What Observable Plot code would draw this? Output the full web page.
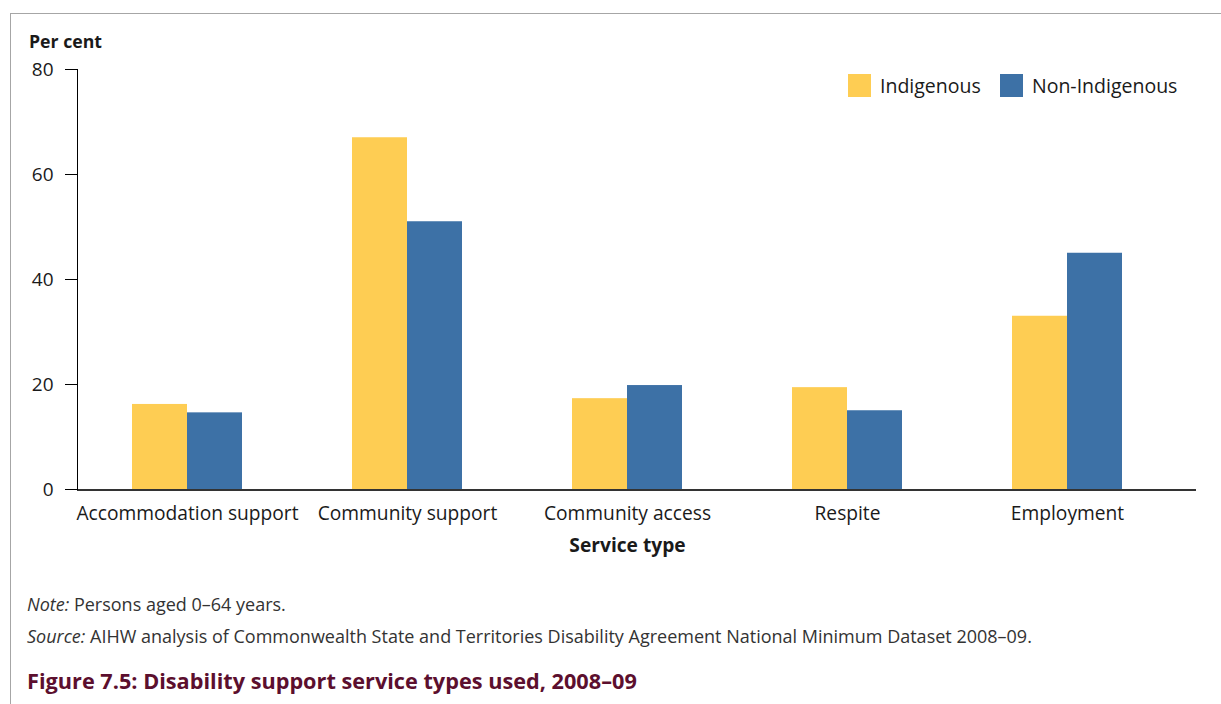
<!DOCTYPE html>
<html><head><meta charset="utf-8">
<script src="https://cdn.jsdelivr.net/npm/d3@7"></script>
<script src="https://cdn.jsdelivr.net/npm/@observablehq/plot@0.6"></script>
<style>
body{margin:0;background:#fff;}
#wrap{position:relative;width:1221px;height:704px;overflow:hidden;font-family:"Open Sans",sans-serif;color:#1a1a1a;}
#frame{position:absolute;left:10px;top:13px;right:-5px;bottom:-5px;border-top:1px solid #a6a6a6;border-left:1px solid #a6a6a6;}
#chart{position:absolute;left:0;top:0;}
#ylab{position:absolute;left:29px;top:29px;font-weight:bold;font-size:17.7px;line-height:24px;}
.leg{position:absolute;top:74px;height:23px;display:flex;align-items:center;font-size:19.5px;}
.sw{width:23px;height:23px;margin-right:9px;}
.foot{position:absolute;left:27px;font-size:18px;color:#333;white-space:nowrap;line-height:20px;}
#title{position:absolute;left:27px;top:667px;font-size:21.7px;font-weight:bold;color:#5c0f2e;white-space:nowrap;line-height:28px;}
g[aria-label="fx-axis label"] text{font-weight:bold;}
</style></head>
<body><div id="wrap">
<div id="frame"></div>
<div id="chart"></div>
<div id="ylab">Per cent</div>
<div id="legend"></div>
<div class="foot" style="top:594px"><i>Note:</i> Persons aged 0–64 years.</div>
<div class="foot" style="top:626px"><i>Source:</i> AIHW analysis of Commonwealth State and Territories Disability Agreement National Minimum Dataset 2008–09.</div>
<div id="title">Figure 7.5: Disability support service types used, 2008–09</div>
</div>
<script>
const categories = ["Accommodation support","Community support","Community access","Respite","Employment"];
const seriesNames = ["Indigenous","Non-Indigenous"];
const indigenous = [16.2, 67.0, 17.3, 19.4, 33.0];
const nonIndigenous = [14.6, 51.0, 19.8, 15.0, 45.0];
const yTicks = [0, 20, 40, 60, 80];
const colors = ["#FECD53", "#3D71A6"];

const data = categories.flatMap((c, i) => [
  {category: c, series: seriesNames[0], value: indigenous[i]},
  {category: c, series: seriesNames[1], value: nonIndigenous[i]}
]);

const chart = Plot.plot({
  width: 1221, height: 560,
  marginLeft: 75, marginRight: 42, marginTop: 69, marginBottom: 71,
  style: {fontFamily: '"Open Sans", sans-serif', fontSize: "19px", color: "#1a1a1a", background: "transparent", overflow: "visible"},
  fx: {domain: categories, padding: 0, label: null},
  x: {domain: seriesNames, paddingInner: 0, paddingOuter: 0.971, axis: null},
  y: {domain: [0, 80], axis: null},
  color: {domain: seriesNames, range: colors},
  marks: [
    Plot.barY(data, {fx: "category", x: "series", y: "value", fill: "series"}),
    Plot.ruleY([0], {stroke: "#333", strokeWidth: 2, insetRight: -19, dy: 0.5}),
    Plot.frame({anchor: "left", facet: "super", stroke: "#000"}),
    Plot.axisY({ticks: yTicks, tickSize: 12, tickPadding: 12, label: null, stroke: "#000", fontSize: 19}),
    Plot.axisFx({anchor: "bottom", tickSize: 0, tickPadding: 17, label: "Service type", labelAnchor: "center", labelOffset: 62, fontSize: 19.2})
  ]
});
document.getElementById("chart").appendChild(chart);

const legend = document.getElementById("legend");
const legendX = [848, 1000];
seriesNames.forEach((s, i) => {
  const d = document.createElement("div");
  d.className = "leg";
  d.style.left = legendX[i] + "px";
  d.innerHTML = `<div class="sw" style="background:${colors[i]}"></div><span>${s}</span>`;
  legend.appendChild(d);
});
</script>
</body></html>
